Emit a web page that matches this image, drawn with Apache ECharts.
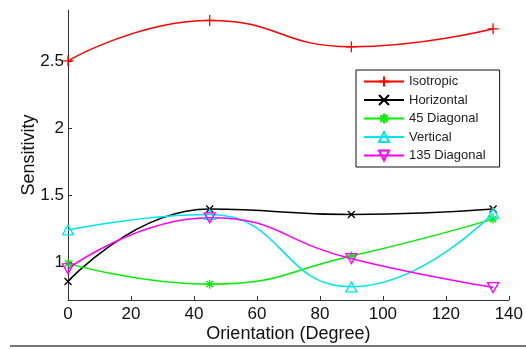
<!DOCTYPE html>
<html>
<head>
<meta charset="utf-8">
<script src="https://cdn.jsdelivr.net/npm/echarts@6/dist/echarts.min.js"></script>
<style>html,body{margin:0;padding:0;background:#fff;}#c{width:526px;height:349px;}</style>
</head>
<body>
<div id="c"></div>
<script>
const orientations = [0, 45, 90, 135];
const isotropic = [2.505, 2.806, 2.61, 2.744];
const horizontal = [0.86, 1.40, 1.36, 1.40];
const diag45 = [0.995, 0.84, 1.05, 1.325];
const vertical = [1.244, 1.36, 0.82, 1.37];
const diag135 = [0.955, 1.335, 1.03, 0.815];
const seriesNames = ['Isotropic', 'Horizontal', '45 Diagonal', 'Vertical', '135 Diagonal'];
const yTicks = [1, 1.5, 2, 2.5];
const xTicks = [0, 20, 40, 60, 80, 100, 120, 140];

const pairs = v => orientations.map((x, i) => [x, v[i]]);
const sym = {
  plus: 'path://M5,0L5,10M0,5L10,5',
  cross: 'path://M0,0L10,10M10,0L0,10',
  star: 'path://M5,0L5,10M0,5L10,5M1.5,1.5L8.5,8.5M8.5,1.5L1.5,8.5',
  up: 'path://M5,0L10,9L0,9Z',
  down: 'path://M0,0L10,0L5,9Z'
};
function mk(name, data, color, symbol, size, fill) {
  return {
    name: name, type: 'line', data: pairs(data), smooth: 0.5,
    symbol: symbol, symbolSize: size, showSymbol: true,
    lineStyle: { color: color, width: 1.5 },
    itemStyle: { color: fill, borderColor: color, borderWidth: 1.3 },
    emphasis: { disabled: true }, animation: false
  };
}
const chart = echarts.init(document.getElementById('c'));
chart.setOption({
  animation: false,
  backgroundColor: '#fff',
  textStyle: { fontFamily: 'Liberation Sans' },
  grid: { left: 68, right: 12, top: 10, bottom: 49 },
  xAxis: {
    type: 'value', min: 0, max: 140, interval: 20,
    name: 'Orientation (Degree)', nameLocation: 'middle', nameGap: 25, nameMoveOverlap: false,
    nameTextStyle: { fontSize: 18, color: '#111', fontFamily: 'Liberation Sans' },
    axisLine: { lineStyle: { color: '#333', width: 1 } },
    axisTick: { inside: true, length: 4, lineStyle: { color: '#333' }, customValues: xTicks },
    axisLabel: { fontSize: 17, color: '#111', margin: 6, customValues: xTicks },
    splitLine: { show: false }
  },
  yAxis: {
    type: 'value', min: 0.722, max: 2.884,
    name: 'Sensitivity', nameLocation: 'middle', nameGap: 30, nameRotate: 90, nameMoveOverlap: false,
    nameTextStyle: { fontSize: 18, color: '#111', fontFamily: 'Liberation Sans' },
    axisLine: { show: true, lineStyle: { color: '#333', width: 1 } },
    axisTick: { show: true, inside: true, length: 4, lineStyle: { color: '#333' }, customValues: yTicks },
    axisLabel: { fontSize: 17, color: '#111', margin: 4, customValues: yTicks },
    splitLine: { show: false }
  },
  legend: {
    orient: 'vertical', left: 356, top: 70,
    data: seriesNames,
    backgroundColor: '#fff', borderColor: '#111', borderWidth: 1,
    padding: [5, 14, 5, 7], itemGap: 5.5, itemWidth: 40, itemHeight: 12.5,
    textStyle: { fontSize: 13, color: '#222', fontFamily: 'Liberation Sans' },
    selectedMode: false
  },
  graphic: [{
    type: 'line', shape: { x1: 10, y1: 346, x2: 526, y2: 346 },
    style: { stroke: '#777', lineWidth: 2 }, silent: true
  }],
  series: [
    mk(seriesNames[0], isotropic, '#ff0000', sym.plus, 11, 'transparent'),
    mk(seriesNames[1], horizontal, '#000000', sym.cross, 7, 'transparent'),
    mk(seriesNames[2], diag45, '#00ee00', sym.star, 9, 'transparent'),
    mk(seriesNames[3], vertical, '#00e5ee', sym.up, [11, 10], 'transparent'),
    mk(seriesNames[4], diag135, '#ff00ff', sym.down, [11, 10], 'transparent')
  ]
});
</script>
</body>
</html>
